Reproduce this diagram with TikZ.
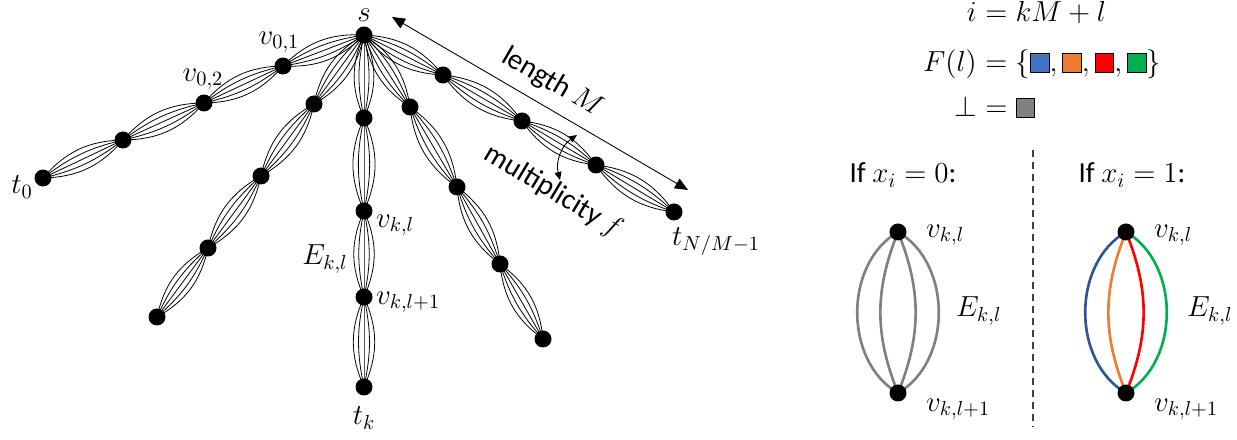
\documentclass[tikz,border=0pt]{standalone}
\usepackage{fix-cm}
\usepackage{fontspec}
\setmainfont{Carlito}
\usetikzlibrary{arrows.meta,backgrounds}

\definecolor{fblue}{HTML}{4472C4}
\definecolor{forange}{HTML}{ED7D31}
\definecolor{fred}{HTML}{FF0000}
\definecolor{fgreen}{HTML}{00B050}
\definecolor{fgray}{HTML}{808080}
\definecolor{lblue}{HTML}{2F5597}

% coloured square for the legend
\newcommand{\csq}[1]{{\setlength{\fboxsep}{0pt}\setlength{\fboxrule}{0.6pt}\fcolorbox{black}{#1}{\rule{0pt}{3.5mm}\rule{3.5mm}{0pt}}}}

\tikzset{
  dot/.style={circle, fill=black, inner sep=0pt, minimum size=3.4mm},
  bundle/.style={line width=0.45pt},
  fatline/.style={line width=1.5pt},
  arr/.style={{Triangle[length=2.6mm,width=2.2mm]}-{Triangle[length=2.6mm,width=2.2mm]}, line width=0.5pt},
  smallarr/.style={{Triangle[length=1.6mm,width=1.4mm]}-{Triangle[length=1.6mm,width=1.4mm]}, line width=0.5pt},
  sepline/.style={dashed, dash pattern=on 1.4mm off 1mm, line width=1pt, black!75},
}

\begin{document}
\begin{tikzpicture}[x=0.2mm, y=-0.2mm, font=\fontsize{16.5}{19}\selectfont]
    \useasboundingbox (0,0) rectangle (1237,440);

      \begin{scope}[every node/.style={dot}]
        \node (s)    at (364,35)  {};
        % branch 0
        \node (v01)  at (283,66)  {};
        \node (v02)  at (204,103) {};
        \node (v03)  at (123,140) {};
        \node (t0)   at (43,178)  {};
        % branch 1
        \node (u1)   at (314,104) {};
        \node (u2)   at (261,176) {};
        \node (u3)   at (208,248) {};
        \node (u4)   at (157,317) {};
        % branch k
        \node (m1)   at (364,118) {};
        \node (vkl)  at (364,211) {};
        \node (vkl1) at (364,297) {};
        \node (tk)   at (364,387) {};
        % branch 3
        \node (w1)   at (410,107) {};
        \node (w2)   at (457,187) {};
        \node (w3)   at (500,264) {};
        \node (w4)   at (543,339) {};
        % last branch
        \node (r1)   at (443,75)  {};
        \node (r2)   at (522,121) {};
        \node (r3)   at (596,165) {};
        \node (tn)   at (674,212) {};
        % legend
        \node (a1)   at (898,232)  {};
        \node (a2)   at (898,393)  {};
        \node (b1)   at (1126,232) {};
        \node (b2)   at (1126,393) {};
      \end{scope}

      \begin{scope}[on background layer]
        \foreach \a/\b in {s/v01, v01/v02, v02/v03, v03/t0,
                           s/u1, u1/u2, u2/u3, u3/u4,
                           s/m1, m1/vkl, vkl/vkl1, vkl1/tk,
                           s/w1, w1/w2, w2/w3, w3/w4,
                           s/r1, r1/r2, r2/r3, r3/tn}
          \foreach \ang in {-24,-12,0,12,24}
            \draw[bundle] (\a.center) to[bend left=\ang] (\b.center);

        \draw[fatline, fgray] (a1.center) to[bend right=60] (a2.center);
        \draw[fatline, fgray] (a1.center) to[bend right=22] (a2.center);
        \draw[fatline, fgray] (a1.center) to[bend left=22]  (a2.center);
        \draw[fatline, fgray] (a1.center) to[bend left=60]  (a2.center);

        \draw[fatline, lblue]   (b1.center) to[bend right=60] (b2.center);
        \draw[fatline, forange] (b1.center) to[bend right=22] (b2.center);
        \draw[fatline, fred]    (b1.center) to[bend left=22]  (b2.center);
        \draw[fatline, fgreen]  (b1.center) to[bend left=60]  (b2.center);
      \end{scope}

      % labels of the tree
      \node (ls)    at (364,15)  {$s$};
      \node (lv01)  at (279,42)  {$v_{0,1}$};
      \node (lv02)  at (203,79)  {$v_{0,2}$};
      \node (lt0)   at (22,187)  {$t_0$};
      \node[anchor=west] (lvkl)  at (370,225) {$v_{k,l}$};
      \node (lE)    at (325,259) {$E_{k,l}$};
      \node[anchor=west] (lvkl1) at (370,302) {$v_{k,l+1}$};
      \node (ltk)   at (364,418) {$t_k$};
      \node[anchor=west] (ltn)   at (666,242) {$t_{N/M-1}$};

      \coordinate (lenA) at (392,17);
      \coordinate (lenB) at (688,190);
      \draw[arr] (lenA) -- node[sloped, above=3pt] {length $M$} (lenB);

      \node[rotate=-31] (lmul) at (553,192) {multiplicity $f$};
      \coordinate (mulA) at (577,135);
      \coordinate (mulB) at (560,180);
      \draw[smallarr] (mulB) to[bend left=35] (mulA);

      % legend
      \begin{scope}[every node/.style={inner sep=0pt}]
        \node[anchor=base east] (eq1l) at (977,22)  {$i$};
        \node[anchor=base west] (eq1r) at (977,22)  {${}= kM + l$};
        \node[anchor=base east] (eq2l) at (977,72)  {$F(l)$};
        \node[anchor=base west] (eq2r) at (977,72)  {${}= \{\csq{fblue},\csq{forange},\csq{fred},\csq{fgreen}\}$};
        \node[anchor=base east] (eq3l) at (977,117) {$\bot$};
        \node[anchor=base west] (eq3r) at (977,117) {${}= \csq{fgray}$};
      \end{scope}

      \node (if0) at (903,175)  {If $x_i = 0$:};
      \node (if1) at (1132,175) {If $x_i = 1$:};

      \coordinate (sepT) at (1033,150);
      \coordinate (sepB) at (1033,427);
      \draw[sepline] (sepT) -- (sepB);

      \node[anchor=west] (la1) at (920,235)  {$v_{k,l}$};
      \node[anchor=west] (laE) at (950,311)  {$E_{k,l}$};
      \node[anchor=west] (la2) at (920,409)  {$v_{k,l+1}$};
      \node[anchor=west] (lb1) at (1148,235) {$v_{k,l}$};
      \node[anchor=west] (lbE) at (1181,311) {$E_{k,l}$};
      \node[anchor=west] (lb2) at (1148,409) {$v_{k,l+1}$};

\end{tikzpicture}
\end{document}
